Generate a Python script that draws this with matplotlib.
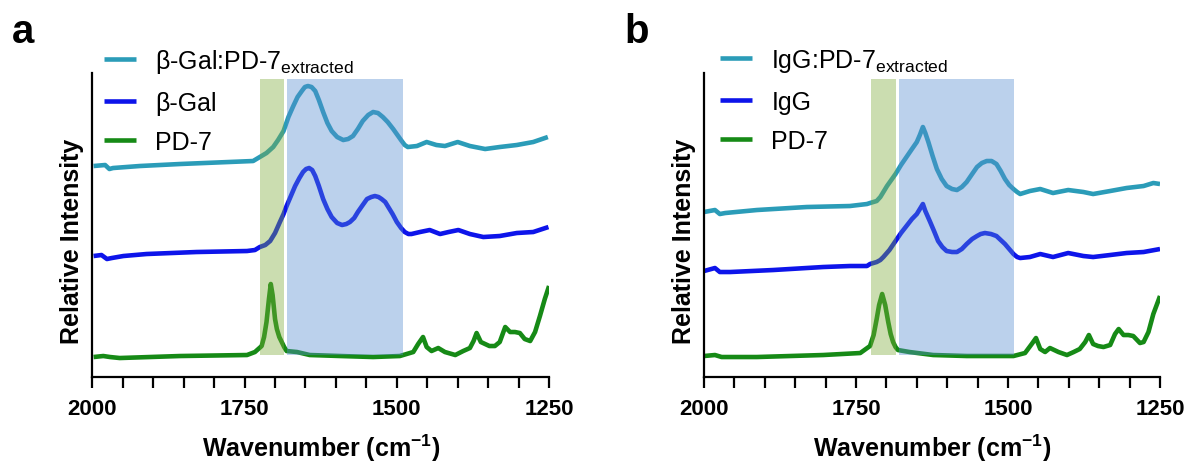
import matplotlib
matplotlib.use("Agg")
import matplotlib.pyplot as plt
from matplotlib.ticker import MultipleLocator

plt.rcParams['font.family'] = ['Liberation Sans', 'DejaVu Sans']
plt.rcParams['mathtext.fontset'] = 'custom'
plt.rcParams['mathtext.rm'] = 'Liberation Sans'
plt.rcParams['mathtext.it'] = 'Liberation Sans:italic'
plt.rcParams['mathtext.bf'] = 'Liberation Sans:bold'

# ---------------- data (wavenumber cm-1, relative intensity, offset stacked) ----------------
# Panel a
a_teal_wn = [1998, 1979, 1972, 1966, 1922, 1856, 1736, 1725, 1714, 1703, 1695, 1686, 1678, 1670, 1663,
             1656, 1651, 1646, 1640, 1634, 1628, 1621, 1614, 1607, 1598, 1588, 1580, 1572, 1564, 1556,
             1547, 1539, 1531, 1523, 1515, 1506, 1499, 1492, 1487, 1482, 1467, 1451, 1435, 1421, 1400,
             1380, 1355, 1331, 1303, 1276, 1252]
a_teal_i = [2.11, 2.12, 2.08, 2.09, 2.11, 2.13, 2.16, 2.20, 2.24, 2.30, 2.37, 2.46, 2.60, 2.71, 2.80,
            2.86, 2.90, 2.91, 2.90, 2.86, 2.77, 2.65, 2.54, 2.46, 2.40, 2.37, 2.38, 2.41, 2.48, 2.56,
            2.62, 2.65, 2.64, 2.60, 2.55, 2.48, 2.42, 2.36, 2.32, 2.30, 2.31, 2.35, 2.32, 2.31, 2.35,
            2.31, 2.28, 2.30, 2.32, 2.35, 2.40]

a_blue_wn = [1998, 1985, 1976, 1968, 1949, 1911, 1829, 1746, 1733, 1725, 1716, 1708, 1700, 1692, 1686,
             1681, 1674, 1667, 1660, 1654, 1649, 1644, 1639, 1634, 1628, 1621, 1614, 1607, 1598, 1590,
             1583, 1577, 1570, 1564, 1556, 1549, 1542, 1536, 1530, 1525, 1519, 1514, 1507, 1500, 1493,
             1487, 1481, 1476, 1462, 1446, 1429, 1415, 1399, 1380, 1358, 1331, 1303, 1276, 1251]
a_blue_i = [1.21, 1.22, 1.18, 1.19, 1.21, 1.23, 1.25, 1.26, 1.27, 1.30, 1.32, 1.36, 1.44, 1.55, 1.63,
            1.71, 1.81, 1.91, 1.99, 2.05, 2.08, 2.09, 2.07, 2.01, 1.91, 1.78, 1.68, 1.60, 1.54, 1.52,
            1.53, 1.55, 1.59, 1.65, 1.72, 1.78, 1.80, 1.81, 1.80, 1.78, 1.75, 1.70, 1.63, 1.55, 1.49,
            1.45, 1.43, 1.43, 1.45, 1.47, 1.43, 1.45, 1.47, 1.43, 1.40, 1.41, 1.44, 1.45, 1.50]

a_green_wn = [1998, 1982, 1971, 1955, 1856, 1746, 1733, 1722, 1718, 1714, 1710, 1707, 1704, 1700, 1697,
              1693, 1689, 1685, 1681, 1664, 1643, 1593, 1539, 1495, 1473, 1465, 1457, 1451, 1443, 1432,
              1421, 1404, 1391, 1380, 1374, 1369, 1362, 1355, 1348, 1339, 1331, 1322, 1314, 1306, 1298,
              1290, 1281, 1273, 1265, 1257, 1250]
a_green_i = [0.20, 0.21, 0.20, 0.19, 0.21, 0.22, 0.25, 0.31, 0.40, 0.55, 0.78, 0.93, 0.82, 0.58, 0.48,
             0.40, 0.35, 0.30, 0.26, 0.25, 0.22, 0.21, 0.20, 0.21, 0.25, 0.33, 0.40, 0.30, 0.26, 0.29,
             0.25, 0.22, 0.26, 0.29, 0.36, 0.44, 0.35, 0.33, 0.31, 0.31, 0.35, 0.50, 0.45, 0.45, 0.44,
             0.38, 0.36, 0.45, 0.61, 0.78, 0.91]

# Panel b
b_teal_wn = [2000, 1982, 1974, 1965, 1913, 1831, 1760, 1732, 1727, 1716, 1710, 1705, 1699, 1692, 1685,
             1676, 1667, 1658, 1650, 1645, 1640, 1636, 1631, 1624, 1617, 1609, 1601, 1592, 1584, 1576,
             1568, 1559, 1551, 1543, 1535, 1527, 1519, 1512, 1505, 1498, 1491, 1485, 1480, 1464, 1447,
             1426, 1401, 1376, 1360, 1332, 1305, 1277, 1261, 1250]
b_teal_i = [1.65, 1.67, 1.63, 1.64, 1.67, 1.70, 1.71, 1.73, 1.74, 1.76, 1.80, 1.85, 1.91, 1.97, 2.03,
            2.12, 2.20, 2.28, 2.35, 2.42, 2.50, 2.44, 2.35, 2.21, 2.08, 1.98, 1.91, 1.88, 1.87, 1.90,
            1.95, 2.03, 2.10, 2.14, 2.16, 2.16, 2.13, 2.06, 1.98, 1.92, 1.88, 1.85, 1.83, 1.86, 1.88,
            1.84, 1.87, 1.85, 1.83, 1.86, 1.89, 1.91, 1.94, 1.93]

b_blue_wn = [2000, 1982, 1974, 1957, 1886, 1804, 1760, 1732, 1727, 1716, 1710, 1705, 1695, 1685, 1676,
             1667, 1658, 1650, 1645, 1640, 1636, 1628, 1621, 1615, 1608, 1601, 1592, 1584, 1576, 1568,
             1559, 1551, 1545, 1538, 1528, 1519, 1512, 1505, 1498, 1491, 1485, 1480, 1464, 1447, 1426,
             1401, 1376, 1360, 1332, 1305, 1277, 1250]
b_blue_i = [1.06, 1.09, 1.05, 1.05, 1.07, 1.10, 1.11, 1.11, 1.13, 1.15, 1.17, 1.20, 1.27, 1.36, 1.44,
            1.51, 1.58, 1.63, 1.68, 1.73, 1.66, 1.55, 1.45, 1.36, 1.30, 1.26, 1.25, 1.25, 1.28, 1.33,
            1.38, 1.41, 1.43, 1.44, 1.43, 1.41, 1.37, 1.33, 1.28, 1.23, 1.20, 1.19, 1.20, 1.23, 1.20,
            1.24, 1.21, 1.20, 1.22, 1.24, 1.25, 1.28]

b_green_wn = [2000, 1982, 1971, 1913, 1804, 1743, 1727, 1721, 1716, 1712, 1707, 1702, 1697, 1693, 1689,
              1685, 1681, 1662, 1623, 1568, 1491, 1472, 1461, 1454, 1447, 1439, 1431, 1417, 1403, 1392,
              1382, 1373, 1367, 1360, 1352, 1343, 1332, 1324, 1318, 1310, 1302, 1294, 1283, 1277, 1269,
              1261, 1253, 1250]
b_green_i = [0.21, 0.22, 0.20, 0.20, 0.22, 0.24, 0.31, 0.42, 0.58, 0.72, 0.83, 0.72, 0.55, 0.43, 0.35,
             0.30, 0.27, 0.25, 0.22, 0.21, 0.21, 0.24, 0.33, 0.39, 0.28, 0.25, 0.29, 0.25, 0.22, 0.25,
             0.28, 0.35, 0.42, 0.33, 0.31, 0.30, 0.32, 0.43, 0.48, 0.42, 0.42, 0.41, 0.34, 0.35, 0.45,
             0.63, 0.76, 0.81]

a_labels = [r'β-Gal:PD-7$_{\mathrm{extracted}}$', 'β-Gal', 'PD-7']
b_labels = [r'IgG:PD-7$_{\mathrm{extracted}}$', 'IgG', 'PD-7']
panel_letters = ['a', 'b']

green_band = (1725, 1685)
blue_band = (1680, 1490)
band_y = (0.22, 2.98)

x_limits = (2000, 1250)
y_limits = (0, 3.04)
x_major = [2000, 1750, 1500, 1250]

c_teal = '#2B9CB8'
c_blue = '#0D14EA'
c_green = '#168A16'
c_band_green = '#7DAA3A'
c_band_blue = '#558CD0'

# ---------------- figure ----------------
fig = plt.figure(figsize=(11.9, 4.64), dpi=100)
ax_a = fig.add_axes([0.0776, 0.1853, 0.3838, 0.6552])
ax_b = fig.add_axes([0.5916, 0.1853, 0.3832, 0.6552])

panels = [
    (ax_a, (a_teal_wn, a_teal_i), (a_blue_wn, a_blue_i), (a_green_wn, a_green_i), a_labels, 0.026),
    (ax_b, (b_teal_wn, b_teal_i), (b_blue_wn, b_blue_i), (b_green_wn, b_green_i), b_labels, 0.036),
]

for ax, teal, blue, green, labels, legx in panels:
    kw = dict(lw=3.3, zorder=2, solid_capstyle='butt', solid_joinstyle='round')
    ax.plot(teal[0], teal[1], color=c_teal, label=labels[0], **kw)
    ax.plot(blue[0], blue[1], color=c_blue, label=labels[1], **kw)
    ax.plot(green[0], green[1], color=c_green, label=labels[2], **kw)
    ax.fill_between(green_band, band_y[0], band_y[1], color=c_band_green, alpha=0.4, lw=0, zorder=3)
    ax.fill_between(blue_band, band_y[0], band_y[1], color=c_band_blue, alpha=0.4, lw=0, zorder=3)

    ax.set_xlim(*x_limits)
    ax.set_ylim(*y_limits)
    ax.set_xticks(x_major)
    ax.xaxis.set_minor_locator(MultipleLocator(50))
    ax.set_yticks([])
    for s in ['top', 'right']:
        ax.spines[s].set_visible(False)
    for s in ['left', 'bottom']:
        ax.spines[s].set_linewidth(1.6)
    ax.tick_params(axis='x', which='both', direction='out', length=8, width=1.6, pad=7)
    for t in ax.get_xticklabels():
        t.set_fontweight('bold')
        t.set_fontsize(16)
    ax.set_xlabel(r'Wavenumber (cm$^{\mathbf{-1}}$)', fontsize=18, fontweight='bold', labelpad=9)
    ax.set_ylabel('Relative Intensity', fontsize=18, fontweight='bold')
    ax.yaxis.set_label_coords(-0.018, 0.45)
    ax.yaxis.label.set_va('bottom')

    ax.legend(loc='upper left', bbox_to_anchor=(legx, 1.085), frameon=False, fontsize=18,
              handlelength=1.28, handletextpad=0.76, labelspacing=0.62, borderaxespad=0, borderpad=0)

fig.text(0.010, 0.907, panel_letters[0], fontsize=29, fontweight='bold', va='baseline', ha='left')
fig.text(0.525, 0.907, panel_letters[1], fontsize=29, fontweight='bold', va='baseline', ha='left')

fig.savefig('out.png', dpi=100)
